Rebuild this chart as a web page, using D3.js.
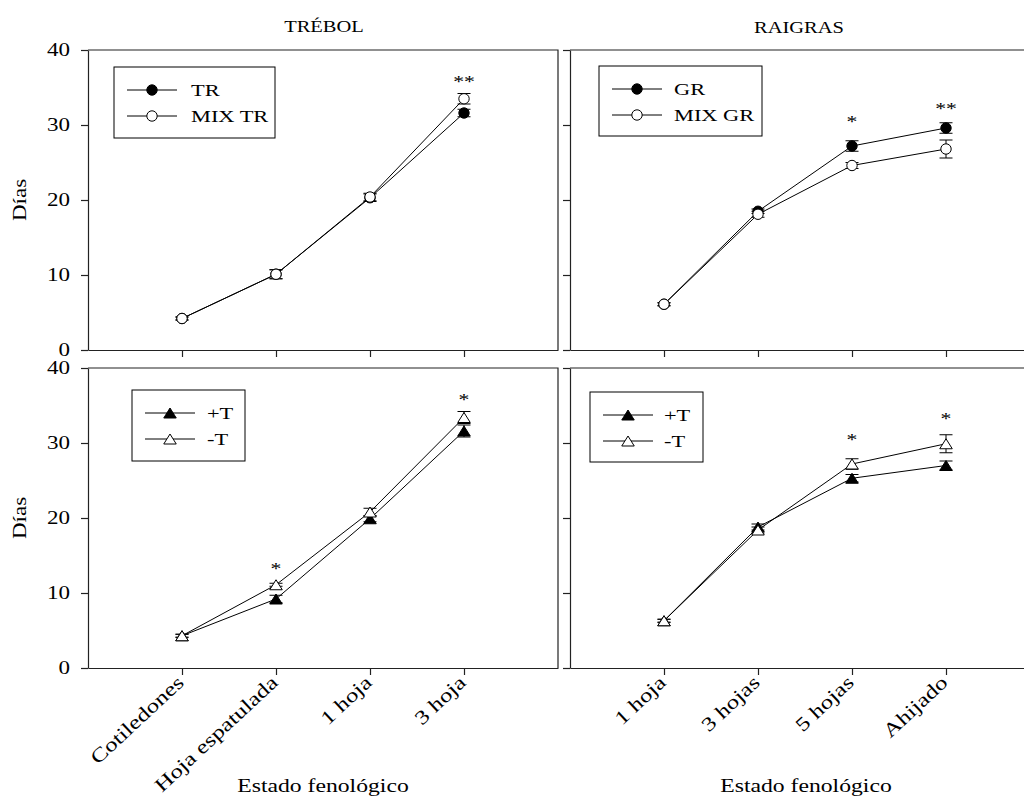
<!DOCTYPE html>
<html>
<head>
<meta charset="utf-8">
<script src="https://cdn.jsdelivr.net/npm/d3@7"></script>
<style>
    body { margin: 0; background: #fff; }
    text { font-family: "Liberation Serif", "Times New Roman", serif; fill: #000; }
</style>
</head>
<body>
<script>
// categories and ticks
const trebolStages = ["Cotiledones", "Hoja espatulada", "1 hoja", "3 hoja"];
const raigrasStages = ["1 hoja", "3 hojas", "5 hojas", "Ahijado"];
const yTicks = [0, 10, 20, 30, 40];

// top row: monoculture vs mixture (mean, error)
const trMean = [4.2, 10.1, 20.3, 31.6];
const trErr = [0.2, 0.6, 0.5, 0.5];
const mixTrMean = [4.2, 10.1, 20.4, 33.5];
const mixTrErr = [0.2, 0.6, 0.5, 0.7];
const grMean = [6.1, 18.5, 27.2, 29.6];
const grErr = [0.2, 0.3, 0.7, 0.7];
const mixGrMean = [6.1, 18.1, 24.6, 26.8];
const mixGrErr = [0.2, 0.4, 0.4, 1.2];

// bottom row: +T / -T
const trebolPlusT = [4.3, 9.2, 19.9, 31.6];
const trebolPlusTErr = [0.2, 0.5, 0.4, 0.8];
const trebolMinusT = [4.3, 11.1, 20.8, 33.4];
const trebolMinusTErr = [0.2, 0.2, 0.5, 0.8];
const raigrasPlusT = [6.3, 18.8, 25.3, 27.0];
const raigrasPlusTErr = [0.2, 0.4, 0.5, 0.6];
const raigrasMinusT = [6.3, 18.4, 27.2, 29.9];
const raigrasMinusTErr = [0.2, 0.4, 0.7, 1.2];

// significance marks: [stage index, text, value where it sits]
const starsTopLeft = [[3, "**", 36.1]];
const starsTopRight = [[2, "*", 30.8], [3, "**", 32.5]];
const starsBottomLeft = [[1, "*", 13.5], [3, "*", 36.1]];
const starsBottomRight = [[2, "*", 30.7], [3, "*", 33.5]];

const SX = 1.28; // glyphs in the original are drawn wide

const W = 1024, H = 798;
const svg = d3.select("body").append("svg")
    .attr("width", W)
    .attr("height", H);

function wideText(parent, x, y, str, size, anchor, angle, dy) {
    return parent.append("text")
        .attr("transform", `translate(${x},${y}) rotate(${angle || 0}) scale(${SX},1)`)
        .attr("text-anchor", anchor || "middle")
        .attr("dy", dy || 0)
        .style("font-size", size + "px")
        .text(str);
}

const triPath = "M0,-5L6.25,5L-6.25,5Z";

function drawMarker(g, x, y, shape, filled) {
    if (shape === "circle") {
        g.append("circle")
            .attr("cx", x).attr("cy", y).attr("r", 5.2)
            .attr("fill", filled ? "#000" : "#fff")
            .attr("stroke", "#000").attr("stroke-width", 1);
    } else {
        g.append("path")
            .attr("d", triPath)
            .attr("transform", `translate(${x},${y})`)
            .attr("fill", filled ? "#000" : "#fff")
            .attr("stroke", "#000").attr("stroke-width", 1);
    }
}

const panels = [
    { x0: 88, x1: 558, y0: 350, y1: 50, stages: trebolStages, labels: false, yLabels: true,
      series: [
        { name: "TR", mean: trMean, err: trErr, shape: "circle", filled: true },
        { name: "MIX TR", mean: mixTrMean, err: mixTrErr, shape: "circle", filled: false }],
      stars: starsTopLeft, legend: { x: 114, y: 67, w: 161, h: 71, lx: 127, tx: 191 } },
    { x0: 570, x1: 1040, y0: 350, y1: 50, stages: raigrasStages, labels: false, yLabels: false,
      series: [
        { name: "GR", mean: grMean, err: grErr, shape: "circle", filled: true },
        { name: "MIX GR", mean: mixGrMean, err: mixGrErr, shape: "circle", filled: false }],
      stars: starsTopRight, legend: { x: 599, y: 66, w: 163, h: 70, lx: 612, tx: 674 } },
    { x0: 88, x1: 558, y0: 668, y1: 368, stages: trebolStages, labels: true, yLabels: true,
      series: [
        { name: "+T", mean: trebolPlusT, err: trebolPlusTErr, shape: "tri", filled: true },
        { name: "-T", mean: trebolMinusT, err: trebolMinusTErr, shape: "tri", filled: false }],
      stars: starsBottomLeft, legend: { x: 132, y: 390, w: 113, h: 71, lx: 145, tx: 207 } },
    { x0: 570, x1: 1040, y0: 668, y1: 368, stages: raigrasStages, labels: true, yLabels: false,
      series: [
        { name: "+T", mean: raigrasPlusT, err: raigrasPlusTErr, shape: "tri", filled: true },
        { name: "-T", mean: raigrasMinusT, err: raigrasMinusTErr, shape: "tri", filled: false }],
      stars: starsBottomRight, legend: { x: 590, y: 392, w: 113, h: 70, lx: 603, tx: 664 } }
];

panels.forEach(function (p) {
    const g = svg.append("g");
    const x = d3.scaleLinear().domain([0, 5]).range([p.x0, p.x1]);
    const y = d3.scaleLinear().domain([0, 40]).range([p.y0, p.y1]);

    // frame top and right
    g.append("path")
        .attr("d", `M${p.x0},${p.y1}H${p.x1}V${p.y0}`)
        .attr("fill", "none").attr("stroke", "#222").attr("stroke-width", 1.2);

    const yAxis = g.append("g")
        .attr("transform", `translate(${p.x0},0)`)
        .call(d3.axisLeft(y).tickValues(yTicks).tickSize(7).tickSizeOuter(0));
    yAxis.selectAll("text").remove();
    if (p.yLabels) {
        yTicks.forEach(function (t) {
            wideText(g, p.x0 - 18, y(t), t, 18, "end", 0, "0.35em");
        });
    }

    const xAxis = g.append("g")
        .attr("transform", `translate(0,${p.y0})`)
        .call(d3.axisBottom(x).tickValues([1, 2, 3, 4]).tickSize(7).tickSizeOuter(0));
    xAxis.selectAll("text").remove();
    g.selectAll(".domain, .tick line").attr("stroke", "#222").attr("stroke-width", 1.2);

    if (p.labels) {
        p.stages.forEach(function (s, i) {
            wideText(g, x(i + 1) + 3, p.y0 + 16, s, 19.5, "end", -43, 0);
        });
    }

    const line = d3.line()
        .x(function (d, i) { return x(i + 1); })
        .y(function (d) { return y(d); });

    p.series.forEach(function (s) {
        g.append("path")
            .datum(s.mean)
            .attr("d", line)
            .attr("fill", "none")
            .attr("stroke", "#000")
            .attr("stroke-width", 1);
    });

    p.series.forEach(function (s) {
        s.mean.forEach(function (m, i) {
            const cx = x(i + 1);
            const top = y(m + s.err[i]), bot = y(m - s.err[i]);
            g.append("path")
                .attr("d", `M${cx},${top}V${bot}M${cx - 6.5},${top}H${cx + 6.5}M${cx - 6.5},${bot}H${cx + 6.5}`)
                .attr("fill", "none").attr("stroke", "#000").attr("stroke-width", 1);
        });
    });

    p.series.forEach(function (s) {
        s.mean.forEach(function (m, i) {
            drawMarker(g, x(i + 1), y(m), s.shape, s.filled);
        });
    });

    p.stars.forEach(function (st) {
        wideText(g, x(st[0] + 1), y(st[2]), st[1], 17, "middle", 0, "0.45em");
    });

    // legend
    const L = p.legend;
    g.append("rect")
        .attr("x", L.x).attr("y", L.y).attr("width", L.w).attr("height", L.h)
        .attr("fill", "#fff").attr("stroke", "#000").attr("stroke-width", 1);
    p.series.forEach(function (s, k) {
        const ry = L.y + 23 + k * 26;
        g.append("line")
            .attr("x1", L.lx).attr("x2", L.lx + 50)
            .attr("y1", ry).attr("y2", ry)
            .attr("stroke", "#000").attr("stroke-width", 1);
        drawMarker(g, L.lx + 25, ry, s.shape, s.filled);
        wideText(g, L.tx, ry, s.name, 17.5, "start", 0, "0.35em");
    });
});

// titles and axis labels
wideText(svg, 324, 32, "TRÉBOL", 16, "middle");
wideText(svg, 799, 33, "RAIGRAS", 16, "middle");
wideText(svg, 26, 200, "Días", 18, "middle", -90);
wideText(svg, 26, 518, "Días", 18, "middle", -90);
wideText(svg, 323, 792, "Estado fenológico", 18.5, "middle");
wideText(svg, 806, 792, "Estado fenológico", 18.5, "middle");
</script>
</body>
</html>
